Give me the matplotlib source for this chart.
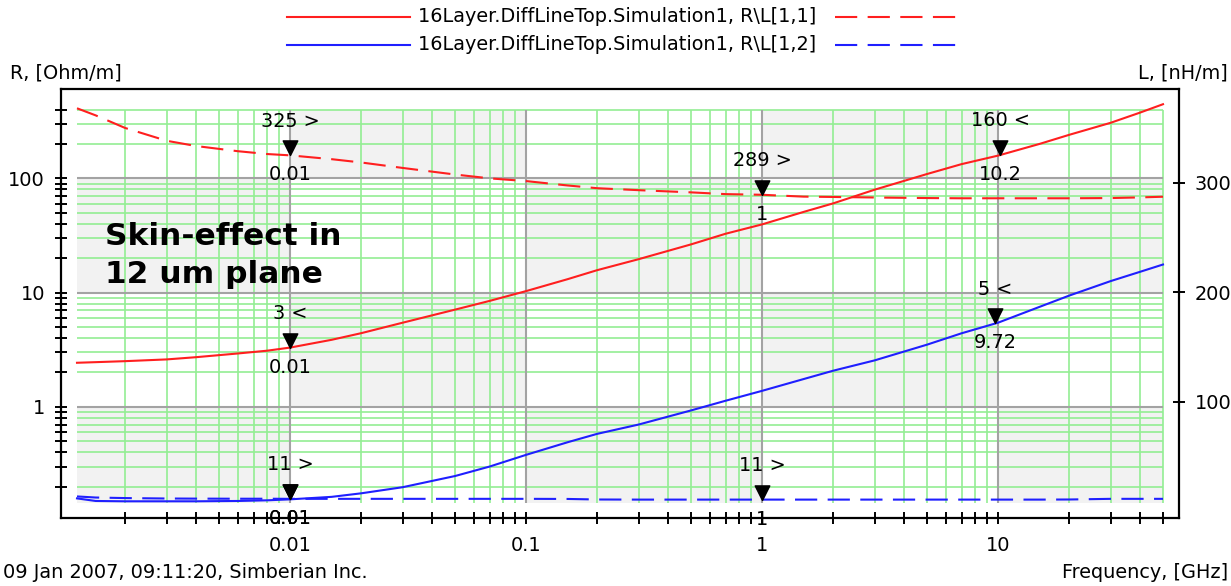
import numpy as np
import matplotlib
matplotlib.use("Agg")
import matplotlib.pyplot as plt
from matplotlib.lines import Line2D
from matplotlib.path import Path
from matplotlib.ticker import FixedLocator, FixedFormatter, NullFormatter, NullLocator

plt.rcParams["font.family"] = ["DejaVu Sans"]
plt.rcParams["lines.scale_dashes"] = False

W, H = 1231, 586

# ------------------------------------------------------------------
# Per-unit-length R and L of the differential line vs frequency
# ------------------------------------------------------------------
FREQ = [0.00125, 0.0015, 0.002, 0.003, 0.004, 0.006, 0.008, 0.01, 0.015,
        0.02, 0.03, 0.05, 0.07, 0.1, 0.15, 0.2, 0.3, 0.5, 0.7, 1.0, 1.5,
        2.0, 3.0, 5.0, 7.0, 10.0, 15.0, 20.0, 30.0, 40.0, 50.0]

# R[1,1], Ohm/m
R11 = [2.43, 2.46, 2.51, 2.60, 2.72, 2.93, 3.10, 3.30, 3.86, 4.41, 5.45,
       7.09, 8.45, 10.3, 13.1, 15.7, 19.6, 26.4, 32.7, 39.5, 50.8, 60.3,
       79.5, 109.0, 133.0, 158.0, 200.0, 240.0, 306.0, 376.0, 445.0]
# L[1,1], nH/m
L11 = [368.0, 361.5, 350.0, 338.3, 333.5, 328.8, 326.2, 325.0, 321.5,
       318.5, 313.5, 307.5, 304.0, 301.5, 297.5, 295.0, 293.2, 291.2,
       289.6, 289.0, 287.3, 287.0, 286.5, 286.0, 285.8, 285.8, 285.8,
       285.8, 286.0, 286.6, 287.2]
# R[1,2], Ohm/m
R12 = [0.158, 0.150, 0.149, 0.149, 0.149, 0.150, 0.152, 0.155, 0.163,
       0.175, 0.198, 0.248, 0.300, 0.380, 0.490, 0.580, 0.700, 0.930,
       1.13, 1.38, 1.75, 2.07, 2.55, 3.50, 4.40, 5.45, 7.50, 9.40, 12.6,
       15.2, 17.6]
# L[1,2], nH/m
L12 = [13.5, 12.5, 12.0, 11.6, 11.5, 11.4, 11.4, 11.3, 11.3, 11.3, 11.3,
       11.3, 11.3, 11.3, 11.2, 10.7, 10.6, 10.6, 10.6, 10.6, 10.6, 10.6,
       10.6, 10.6, 10.6, 10.6, 10.6, 10.7, 11.3, 11.3, 11.3]

LEGEND_11 = "16Layer.DiffLineTop.Simulation1, R\\L[1,1]"
LEGEND_12 = "16Layer.DiffLineTop.Simulation1, R\\L[1,2]"

# cursor markers: frequency, value, axis side, show value label
MARK_FREQ = [0.01, 0.01, 0.01, 0.01, 1.0, 1.0, 10.2, 9.72]
MARK_VALUE = [325.0, 3.3, 11.3, 0.155, 289.0, 10.6, 160.0, 5.4]
MARK_SIDE = ["L", "R", "L", "R", "L", "L", "R", "R"]
MARK_SHOW = [True, True, True, False, True, True, True, True]

X_MAJOR = [0.01, 0.1, 1.0, 10.0]
X_MAJOR_LABELS = ["0.01", "0.1", "1", "10"]
R_MAJOR = [1.0, 10.0, 100.0]
R_MAJOR_LABELS = ["1", "10", "100"]
L_TICKS = [100, 200, 300]

F_MIN, F_MAX = 0.00125, 50.0
R_MIN, R_MAX = 0.144, 400.0
L_LIM = (-6.2, 385.6)

RED = "#ff1f1f"
BLUE = "#1f1fff"
GREEN = "#93ee93"
MAJOR_GRID = "#a3a3a3"
CELL = "#f2f2f2"
FS = 13.9


def fx(px):
    return px / W


def fy(py):
    return 1.0 - py / H


fig = plt.figure(figsize=(W / 100, H / 100), dpi=100)
ax = fig.add_axes([fx(61), fy(518), fx(1179) - fx(61), fy(89) - fy(518)])
ax.set_xscale("log")
ax.set_yscale("log")
ax2 = ax.twinx()

# checkerboard of decade cells
x_edges = [F_MIN, 0.01, 0.1, 1.0, 10.0, F_MAX]
y_edges = [R_MIN, 1.0, 10.0, 100.0, R_MAX]
n_rows = len(y_edges) - 1
for i in range(n_rows):
    for j in range(len(x_edges) - 1):
        if ((n_rows - 1 - i) + j) % 2 == 1:
            ax.fill_between([x_edges[j], x_edges[j + 1]], y_edges[i], y_edges[i + 1],
                            color=CELL, lw=0, zorder=0)

# grid: green minors, grey decades
x_minor = [k * 10.0 ** d for d in range(-3, 2) for k in range(2, 10)]
x_minor = [v for v in x_minor if F_MIN <= v <= F_MAX * 1.0001]
r_minor = [k * 10.0 ** d for d in range(-1, 3) for k in range(2, 10)]
r_minor = [v for v in r_minor if R_MIN <= v <= R_MAX * 1.0001]
ax.vlines(x_minor, R_MIN, R_MAX, color=GREEN, lw=1.2, zorder=1)
ax.hlines(r_minor, F_MIN, F_MAX, color=GREEN, lw=1.2, zorder=1)
ax.vlines(X_MAJOR, R_MIN, R_MAX, color=MAJOR_GRID, lw=1.5, zorder=2)
ax.hlines(R_MAJOR, F_MIN, F_MAX, color=MAJOR_GRID, lw=1.5, zorder=2)

# curves
ax.plot(FREQ, R11, color=RED, lw=1.5, zorder=5)
ax.plot(FREQ, R12, color=BLUE, lw=1.5, zorder=5)
ax2.plot(FREQ, L11, color=RED, lw=1.5, dashes=(16, 7.5), zorder=5)
ax2.plot(FREQ, L12, color=BLUE, lw=1.5, dashes=(16, 7.5), zorder=5)

# cursor markers: triangle tip sits on the curve
tri = Path([(-0.5, 1.0), (0.5, 1.0), (0.0, 0.0), (-0.5, 1.0)],
           [Path.MOVETO, Path.LINETO, Path.LINETO, Path.CLOSEPOLY])
for f, v, side, show in zip(MARK_FREQ, MARK_VALUE, MARK_SIDE, MARK_SHOW):
    trans = ax.transData if side == "R" else ax2.transData
    ax2.plot([f], [v], marker=tri, ms=21, color="black", ls="none",
             transform=trans, zorder=10)
    arrow = "<" if side == "R" else ">"
    if show:
        ax2.annotate(f"{v:.0f} {arrow}", xy=(f, v), xycoords=trans,
                     xytext=(0, 24.5), textcoords="offset points",
                     ha="center", va="center", fontsize=FS, zorder=11)
    ax2.annotate(f"{f:g}", xy=(f, v), xycoords=trans,
                 xytext=(0, -14), textcoords="offset points",
                 ha="center", va="center", fontsize=FS, zorder=11)

# axis limits (frame sits a few pixels outside the data region)
pxd_x = (1163 - 77) / np.log10(F_MAX / F_MIN)
pad_x = 16 / pxd_x
ax.set_xlim(F_MIN / 10 ** pad_x, F_MAX * 10 ** pad_x)
pxd_y = (503 - 109.5) / np.log10(R_MAX / R_MIN)
ax.set_ylim(R_MIN / 10 ** (15 / pxd_y), R_MAX * 10 ** (20.5 / pxd_y))
ax2.set_ylim(*L_LIM)

# ticks
ax.xaxis.set_major_locator(FixedLocator(X_MAJOR))
ax.xaxis.set_major_formatter(FixedFormatter(X_MAJOR_LABELS))
ax.xaxis.set_minor_locator(FixedLocator(x_minor))
ax.xaxis.set_minor_formatter(NullFormatter())
ax.yaxis.set_major_locator(FixedLocator(R_MAJOR))
ax.yaxis.set_major_formatter(FixedFormatter(R_MAJOR_LABELS))
ax.yaxis.set_minor_locator(FixedLocator(r_minor))
ax.yaxis.set_minor_formatter(NullFormatter())
ax.tick_params(which="both", direction="inout", length=9, width=1.4,
               labelsize=FS, top=False, right=False)
ax.tick_params(axis="x", which="major", pad=8.5)
ax.tick_params(axis="y", which="major", pad=7)

ax2.set_yticks(L_TICKS)
ax2.set_yticklabels([str(t) for t in L_TICKS])
ax2.yaxis.set_minor_locator(NullLocator())
ax2.tick_params(direction="inout", length=9, width=1.4, labelsize=FS, pad=7)
for s in ax2.spines.values():
    s.set_visible(False)
for s in ax.spines.values():
    s.set_linewidth(1.6)

# annotation inside the plot
fig.text(fx(105), fy(245), "Skin-effect in", fontsize=22.5, fontweight="bold",
         va="baseline", zorder=20)
fig.text(fx(105), fy(283), "12 um plane", fontsize=22.5, fontweight="bold",
         va="baseline", zorder=20)

# legend rows
for y, col, lab in [(17, RED, LEGEND_11), (45, BLUE, LEGEND_12)]:
    fig.add_artist(Line2D([fx(287), fx(410)], [fy(y), fy(y)], color=col, lw=1.5,
                          transform=fig.transFigure))
    fig.text(fx(418), fy(y), lab, va="center", fontsize=FS)
    fig.add_artist(Line2D([fx(835), fx(956)], [fy(y), fy(y)], color=col, lw=1.5,
                          dashes=(16, 7.5), transform=fig.transFigure))

# axis titles and footer
fig.text(fx(10), fy(73), "R, [Ohm/m]", va="center", fontsize=FS)
fig.text(fx(1228), fy(73), "L, [nH/m]", va="center", ha="right", fontsize=FS)
fig.text(fx(1228), fy(572), "Frequency, [GHz]", va="center", ha="right", fontsize=FS)
fig.text(fx(3), fy(572), "09 Jan 2007, 09:11:20, Simberian Inc.", va="center",
         fontsize=FS)

fig.savefig("out.png", dpi=100)
